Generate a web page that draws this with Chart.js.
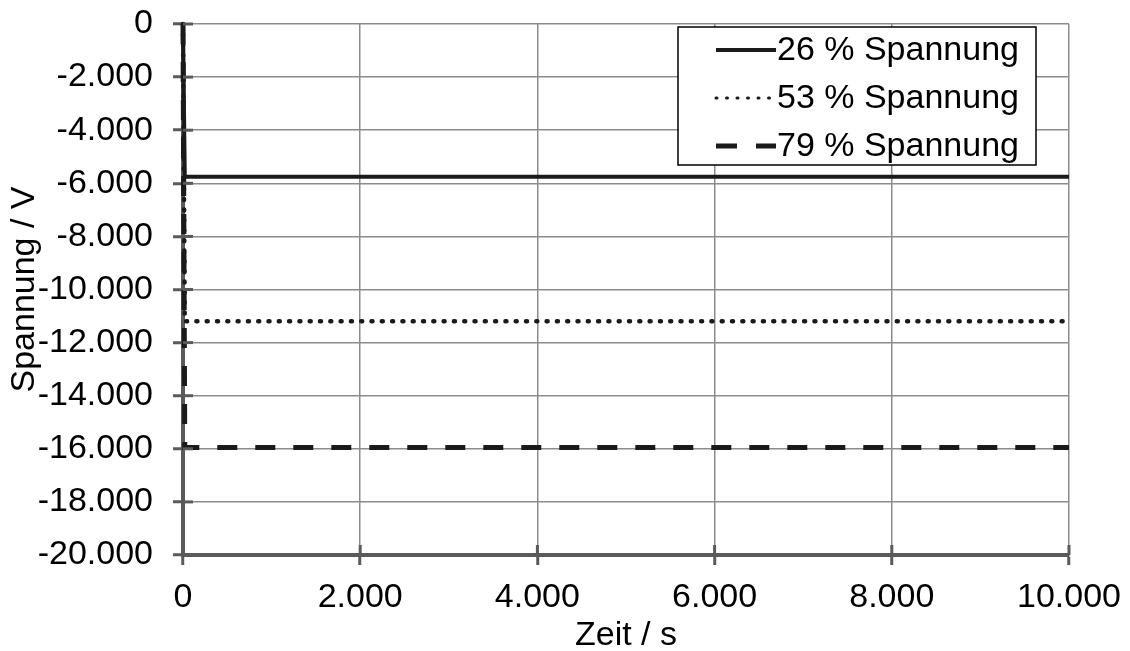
<!DOCTYPE html>
<html>
<head>
<meta charset="utf-8">
<script src="https://cdn.jsdelivr.net/npm/chart.js@4.4.1/dist/chart.umd.min.js"></script>
<style>
  html, body { margin: 0; padding: 0; background: #fff; }
  #wrap { width: 1130px; height: 651px; }
</style>
</head>
<body>
<div id="wrap"><canvas id="spannungChart"></canvas></div>
<script>
// ---- Messdaten ----
const zeitPunkte = [0, 20, 10000];          // s
const spannung26 = [0, -5750, -5750];        // V
const spannung53 = [0, -11200, -11200];      // V
const spannung79 = [0, -15950, -15950];      // V
const serienNamen = ['26 % Spannung', '53 % Spannung', '79 % Spannung'];

const FONT = 'Liberation Sans, Arial, sans-serif';
const FONT_SIZE = 34;

function toPoints(ys) {
    return zeitPunkte.map((x, i) => ({ x: x, y: ys[i] }));
}

// Tausenderpunkt wie in deutschen Diagrammen
function fmtDE(v) {
    const s = String(Math.abs(Math.round(v))).replace(/\B(?=(\d{3})+(?!\d))/g, '.');
    return v < 0 ? '-' + s : s;
}

// Tickmarken gehen auch nach innen ueber die Achse
const crossTicks = {
    id: 'crossTicks',
    afterDatasetsDraw(chart) {
        const { ctx, chartArea, scales } = chart;
        ctx.save();
        ctx.strokeStyle = '#5a5a5a';
        ctx.lineWidth = 3;
        scales.y.ticks.forEach(t => {
            const py = scales.y.getPixelForValue(t.value);
            ctx.beginPath();
            ctx.moveTo(chartArea.left, py);
            ctx.lineTo(chartArea.left + 10, py);
            ctx.stroke();
        });
        scales.x.ticks.forEach(t => {
            const px = scales.x.getPixelForValue(t.value);
            ctx.beginPath();
            ctx.moveTo(px, chartArea.bottom);
            ctx.lineTo(px, chartArea.bottom - 10);
            ctx.stroke();
        });
        ctx.restore();
    }
};

// Legende als Kasten oben rechts im Diagramm
const boxLegend = {
    id: 'boxLegend',
    afterDraw(chart) {
        const { ctx } = chart;
        const x0 = 678, y0 = 27, w = 358, h = 138;
        ctx.save();
        ctx.fillStyle = '#fff';
        ctx.fillRect(x0, y0, w, h);
        ctx.strokeStyle = '#000';
        ctx.lineWidth = 1.5;
        ctx.strokeRect(x0, y0, w, h);
        ctx.font = FONT_SIZE + 'px ' + FONT;
        ctx.textBaseline = 'middle';
        ctx.textAlign = 'left';
        chart.data.datasets.forEach((ds, i) => {
            const cy = y0 + 23 + i * 48;
            ctx.beginPath();
            ctx.strokeStyle = ds.borderColor;
            ctx.lineWidth = ds.legendWidth;
            ctx.lineCap = ds.borderCapStyle || 'butt';
            ctx.setLineDash(ds.legendDash);
            ctx.moveTo(716, cy);
            ctx.lineTo(776, cy);
            ctx.stroke();
            ctx.setLineDash([]);
            ctx.fillStyle = '#000';
            ctx.fillText(ds.label, 777, cy + 1);
        });
        ctx.restore();
    }
};

const ctx = document.getElementById('spannungChart');

new Chart(ctx, {
    type: 'line',
    data: {
        datasets: [
            {
                label: serienNamen[0],
                data: toPoints(spannung26),
                borderColor: '#1a1a1a',
                borderWidth: 4,
                legendWidth: 4,
                legendDash: [],
                pointRadius: 0,
                clip: false
            },
            {
                label: serienNamen[1],
                data: toPoints(spannung53),
                borderColor: '#1a1a1a',
                borderWidth: 4.5,
                borderDash: [1, 9.3],
                borderCapStyle: 'round',
                legendWidth: 3,
                legendDash: [1, 9.5],
                pointRadius: 0,
                clip: false
            },
            {
                label: serienNamen[2],
                data: toPoints(spannung79),
                borderColor: '#1a1a1a',
                borderWidth: 5,
                borderDash: [20, 18],
                legendWidth: 5,
                legendDash: [21, 19],
                pointRadius: 0,
                clip: false
            }
        ]
    },
    options: {
        responsive: true,
        maintainAspectRatio: false,
        animation: false,
        layout: { padding: { left: 0, top: 24, right: 61, bottom: 0 } },
        plugins: {
            legend: { display: false },
            tooltip: { enabled: false }
        },
        scales: {
            x: {
                type: 'linear',
                min: 0,
                max: 10000,
                afterFit: s => {
                    s.height = 96;
                    s.paddingLeft = 0;
                    s.paddingRight = 0;
                },
                ticks: {
                    stepSize: 2000,
                    color: '#000',
                    padding: 12,
                    font: { family: FONT, size: FONT_SIZE },
                    callback: v => fmtDE(v)
                },
                grid: { color: '#8c8c8c', lineWidth: 1.5, tickLength: 10, tickColor: '#5a5a5a', tickWidth: 3 },
                border: { color: '#5a5a5a', width: 4 },
                title: {
                    display: true,
                    text: 'Zeit / s',
                    color: '#000',
                    font: { family: FONT, size: FONT_SIZE },
                    padding: { top: 0, bottom: -5 }
                }
            },
            y: {
                min: -20000,
                max: 0,
                afterFit: s => {
                    s.width = 183;
                    s.paddingTop = 0;
                    s.paddingBottom = 0;
                },
                ticks: {
                    stepSize: 2000,
                    color: '#000',
                    padding: 20,
                    font: { family: FONT, size: FONT_SIZE },
                    callback: v => fmtDE(v)
                },
                grid: { color: '#8c8c8c', lineWidth: 1.5, tickLength: 10, tickColor: '#5a5a5a', tickWidth: 3 },
                border: { color: '#5a5a5a', width: 4 },
                title: {
                    display: true,
                    text: 'Spannung / V',
                    color: '#000',
                    font: { family: FONT, size: FONT_SIZE },
                    padding: { top: 4, bottom: 0 }
                }
            }
        }
    },
    plugins: [crossTicks, boxLegend]
});
</script>
</body>
</html>
